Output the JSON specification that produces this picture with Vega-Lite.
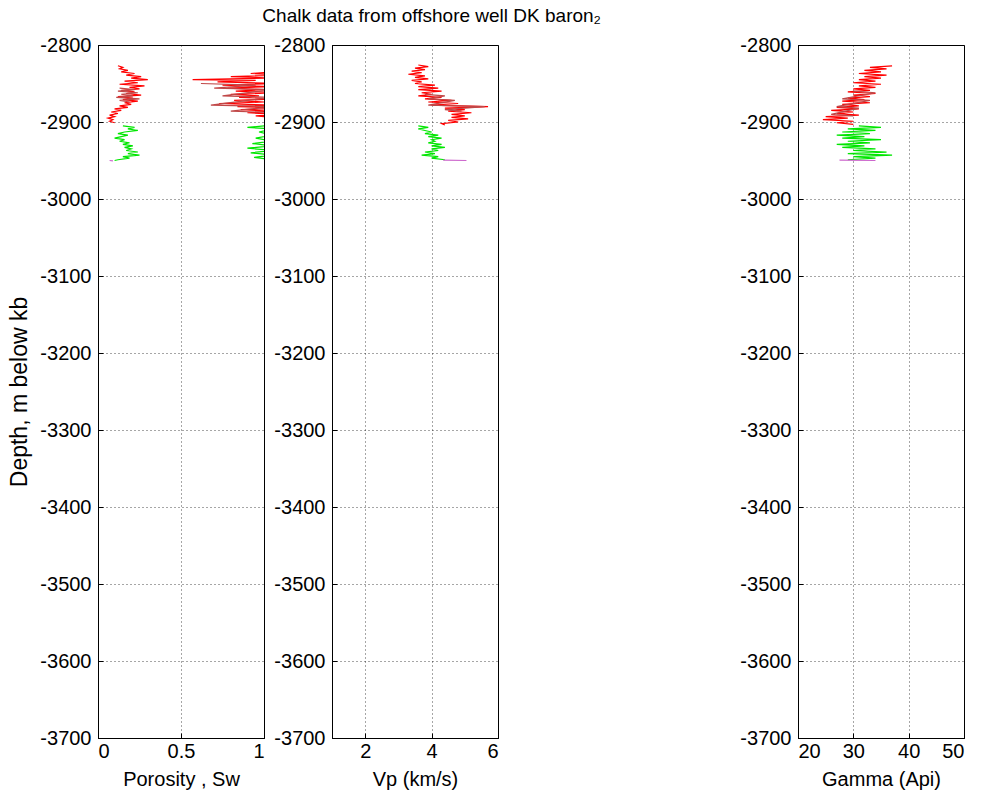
{
  "$schema": "https://vega.github.io/schema/vega-lite/v6.json",
  "background": "white",
  "padding": {"left": 8, "top": 6, "right": 5, "bottom": 5},
  "title": {"text": "Chalk data from offshore well DK baron₂", "font": "Liberation Sans", "fontSize": 19, "fontWeight": "normal", "color": "#000", "anchor": "start", "frame": "bounds", "dx": 254, "offset": 9},
  "config": {
    "view": {"stroke": "#000", "strokeWidth": 1},
    "axis": {"labelFont": "Liberation Sans", "labelFontSize": 20, "labelColor": "#000", "titleFont": "Liberation Sans", "titleFontSize": 20, "titleFontWeight": "normal", "titleColor": "#000", "domainColor": "#000", "tickColor": "#000", "tickSize": -5, "grid": true, "gridColor": "#000", "gridDash": [1, 3], "gridOpacity": 0.7},
    "axisX": {"labelPadding": 8, "titlePadding": 8},
    "axisY": {"labelPadding": 12, "titlePadding": 8, "titleFontSize": 23}
  },
  "datasets": {
    "logs": [
      {"log": "phi", "zone": "r", "depth": -2827, "value": 0.12},
      {"log": "phi", "zone": "r", "depth": -2829, "value": 0.15},
      {"log": "phi", "zone": "r", "depth": -2831, "value": 0.13},
      {"log": "phi", "zone": "r", "depth": -2833, "value": 0.18},
      {"log": "phi", "zone": "r", "depth": -2835, "value": 0.14},
      {"log": "phi", "zone": "r", "depth": -2837, "value": 0.22},
      {"log": "phi", "zone": "r", "depth": -2839, "value": 0.17},
      {"log": "phi", "zone": "r", "depth": -2841, "value": 0.26},
      {"log": "phi", "zone": "r", "depth": -2843, "value": 0.2},
      {"log": "phi", "zone": "r", "depth": -2845, "value": 0.3},
      {"log": "phi", "zone": "r", "depth": -2847, "value": 0.16},
      {"log": "phi", "zone": "r", "depth": -2849, "value": 0.24},
      {"log": "phi", "zone": "r", "depth": -2851, "value": 0.13},
      {"log": "phi", "zone": "r", "depth": -2853, "value": 0.28},
      {"log": "phi", "zone": "r", "depth": -2855, "value": 0.19},
      {"log": "phi", "zone": "r", "depth": -2857, "value": 0.25},
      {"log": "phi", "zone": "r", "depth": -2859, "value": 0.14},
      {"log": "phi", "zone": "r", "depth": -2861, "value": 0.22},
      {"log": "phi", "zone": "r", "depth": -2863, "value": 0.17},
      {"log": "phi", "zone": "r", "depth": -2865, "value": 0.26},
      {"log": "phi", "zone": "r", "depth": -2867, "value": 0.12},
      {"log": "phi", "zone": "r", "depth": -2869, "value": 0.21},
      {"log": "phi", "zone": "r", "depth": -2871, "value": 0.15},
      {"log": "phi", "zone": "r", "depth": -2873, "value": 0.24},
      {"log": "phi", "zone": "r", "depth": -2875, "value": 0.16},
      {"log": "phi", "zone": "r", "depth": -2877, "value": 0.2},
      {"log": "phi", "zone": "r", "depth": -2879, "value": 0.13},
      {"log": "phi", "zone": "r", "depth": -2881, "value": 0.18},
      {"log": "phi", "zone": "r", "depth": -2883, "value": 0.1},
      {"log": "phi", "zone": "r", "depth": -2885, "value": 0.14},
      {"log": "phi", "zone": "r", "depth": -2887, "value": 0.08},
      {"log": "phi", "zone": "r", "depth": -2889, "value": 0.12},
      {"log": "phi", "zone": "r", "depth": -2891, "value": 0.07},
      {"log": "phi", "zone": "r", "depth": -2893, "value": 0.1},
      {"log": "phi", "zone": "r", "depth": -2895, "value": 0.06},
      {"log": "phi", "zone": "r", "depth": -2897, "value": 0.09},
      {"log": "phi", "zone": "r", "depth": -2899, "value": 0.07},
      {"log": "phi", "zone": "r", "depth": -2901, "value": 0.1},
      {"log": "phi", "zone": "d", "depth": -2856, "value": 0.13},
      {"log": "phi", "zone": "d", "depth": -2858, "value": 0.22},
      {"log": "phi", "zone": "d", "depth": -2860, "value": 0.12},
      {"log": "phi", "zone": "d", "depth": -2862, "value": 0.24},
      {"log": "phi", "zone": "d", "depth": -2864, "value": 0.14},
      {"log": "phi", "zone": "d", "depth": -2866, "value": 0.21},
      {"log": "phi", "zone": "d", "depth": -2868, "value": 0.11},
      {"log": "phi", "zone": "d", "depth": -2870, "value": 0.25},
      {"log": "phi", "zone": "d", "depth": -2872, "value": 0.13},
      {"log": "phi", "zone": "d", "depth": -2874, "value": 0.19},
      {"log": "phi", "zone": "g", "depth": -2905, "value": 0.15},
      {"log": "phi", "zone": "g", "depth": -2907, "value": 0.22},
      {"log": "phi", "zone": "g", "depth": -2909, "value": 0.18},
      {"log": "phi", "zone": "g", "depth": -2911, "value": 0.24},
      {"log": "phi", "zone": "g", "depth": -2913, "value": 0.16},
      {"log": "phi", "zone": "g", "depth": -2915, "value": 0.12},
      {"log": "phi", "zone": "g", "depth": -2917, "value": 0.18},
      {"log": "phi", "zone": "g", "depth": -2919, "value": 0.14},
      {"log": "phi", "zone": "g", "depth": -2921, "value": 0.1},
      {"log": "phi", "zone": "g", "depth": -2923, "value": 0.16},
      {"log": "phi", "zone": "g", "depth": -2925, "value": 0.13},
      {"log": "phi", "zone": "g", "depth": -2927, "value": 0.19},
      {"log": "phi", "zone": "g", "depth": -2929, "value": 0.15},
      {"log": "phi", "zone": "g", "depth": -2931, "value": 0.21},
      {"log": "phi", "zone": "g", "depth": -2933, "value": 0.16},
      {"log": "phi", "zone": "g", "depth": -2935, "value": 0.2},
      {"log": "phi", "zone": "g", "depth": -2937, "value": 0.17},
      {"log": "phi", "zone": "g", "depth": -2939, "value": 0.24},
      {"log": "phi", "zone": "g", "depth": -2941, "value": 0.18},
      {"log": "phi", "zone": "g", "depth": -2943, "value": 0.25},
      {"log": "phi", "zone": "g", "depth": -2945, "value": 0.15},
      {"log": "phi", "zone": "g", "depth": -2947, "value": 0.19},
      {"log": "phi", "zone": "g", "depth": -2949, "value": 0.12},
      {"log": "phi", "zone": "g", "depth": -2950, "value": 0.1},
      {"log": "phi", "zone": "m", "depth": -2950, "value": 0.07},
      {"log": "phi", "zone": "m", "depth": -2950.5, "value": 0.09},
      {"log": "sw", "zone": "r", "depth": -2835, "value": 1.05},
      {"log": "sw", "zone": "r", "depth": -2837, "value": 0.92},
      {"log": "sw", "zone": "r", "depth": -2839, "value": 1.1},
      {"log": "sw", "zone": "r", "depth": -2841, "value": 0.8},
      {"log": "sw", "zone": "r", "depth": -2843, "value": 1.05},
      {"log": "sw", "zone": "r", "depth": -2845, "value": 0.57},
      {"log": "sw", "zone": "r", "depth": -2846, "value": 0.95},
      {"log": "sw", "zone": "r", "depth": -2848, "value": 0.72},
      {"log": "sw", "zone": "r", "depth": -2850, "value": 1.1},
      {"log": "sw", "zone": "r", "depth": -2852, "value": 0.75},
      {"log": "sw", "zone": "r", "depth": -2854, "value": 1.05},
      {"log": "sw", "zone": "r", "depth": -2856, "value": 0.78},
      {"log": "sw", "zone": "r", "depth": -2858, "value": 1.0},
      {"log": "sw", "zone": "r", "depth": -2860, "value": 0.83},
      {"log": "sw", "zone": "r", "depth": -2862, "value": 1.1},
      {"log": "sw", "zone": "r", "depth": -2864, "value": 0.8},
      {"log": "sw", "zone": "r", "depth": -2866, "value": 0.97},
      {"log": "sw", "zone": "r", "depth": -2868, "value": 0.85},
      {"log": "sw", "zone": "r", "depth": -2870, "value": 1.1},
      {"log": "sw", "zone": "r", "depth": -2872, "value": 0.82},
      {"log": "sw", "zone": "r", "depth": -2874, "value": 1.0},
      {"log": "sw", "zone": "r", "depth": -2876, "value": 0.73},
      {"log": "sw", "zone": "r", "depth": -2878, "value": 1.05},
      {"log": "sw", "zone": "r", "depth": -2880, "value": 0.84},
      {"log": "sw", "zone": "r", "depth": -2882, "value": 1.1},
      {"log": "sw", "zone": "r", "depth": -2884, "value": 0.86},
      {"log": "sw", "zone": "r", "depth": -2886, "value": 1.05},
      {"log": "sw", "zone": "r", "depth": -2888, "value": 0.9},
      {"log": "sw", "zone": "r", "depth": -2890, "value": 1.1},
      {"log": "sw", "zone": "r", "depth": -2892, "value": 0.95},
      {"log": "sw", "zone": "r", "depth": -2894, "value": 1.05},
      {"log": "sw", "zone": "d", "depth": -2850, "value": 0.62},
      {"log": "sw", "zone": "d", "depth": -2852, "value": 0.95},
      {"log": "sw", "zone": "d", "depth": -2856, "value": 0.7},
      {"log": "sw", "zone": "d", "depth": -2858, "value": 1.05},
      {"log": "sw", "zone": "d", "depth": -2866, "value": 0.75},
      {"log": "sw", "zone": "d", "depth": -2868, "value": 1.05},
      {"log": "sw", "zone": "d", "depth": -2878, "value": 0.68},
      {"log": "sw", "zone": "d", "depth": -2880, "value": 1.05},
      {"log": "sw", "zone": "d", "depth": -2886, "value": 0.8},
      {"log": "sw", "zone": "d", "depth": -2888, "value": 1.1},
      {"log": "sw", "zone": "g", "depth": -2905, "value": 1.0},
      {"log": "sw", "zone": "g", "depth": -2907, "value": 0.9},
      {"log": "sw", "zone": "g", "depth": -2909, "value": 1.05},
      {"log": "sw", "zone": "g", "depth": -2913, "value": 0.97},
      {"log": "sw", "zone": "g", "depth": -2917, "value": 1.05},
      {"log": "sw", "zone": "g", "depth": -2921, "value": 0.95},
      {"log": "sw", "zone": "g", "depth": -2925, "value": 1.05},
      {"log": "sw", "zone": "g", "depth": -2928, "value": 0.93},
      {"log": "sw", "zone": "g", "depth": -2931, "value": 1.05},
      {"log": "sw", "zone": "g", "depth": -2934, "value": 0.9},
      {"log": "sw", "zone": "g", "depth": -2937, "value": 1.05},
      {"log": "sw", "zone": "g", "depth": -2940, "value": 0.92},
      {"log": "sw", "zone": "g", "depth": -2943, "value": 1.05},
      {"log": "sw", "zone": "g", "depth": -2946, "value": 0.94},
      {"log": "sw", "zone": "g", "depth": -2949, "value": 1.05},
      {"log": "vp", "zone": "r", "depth": -2826, "value": 3.6},
      {"log": "vp", "zone": "r", "depth": -2828, "value": 3.9},
      {"log": "vp", "zone": "r", "depth": -2830, "value": 3.5},
      {"log": "vp", "zone": "r", "depth": -2832, "value": 3.8},
      {"log": "vp", "zone": "r", "depth": -2834, "value": 3.4},
      {"log": "vp", "zone": "r", "depth": -2836, "value": 3.7},
      {"log": "vp", "zone": "r", "depth": -2838, "value": 3.3},
      {"log": "vp", "zone": "r", "depth": -2840, "value": 3.8},
      {"log": "vp", "zone": "r", "depth": -2842, "value": 3.5},
      {"log": "vp", "zone": "r", "depth": -2844, "value": 3.9},
      {"log": "vp", "zone": "r", "depth": -2846, "value": 3.4},
      {"log": "vp", "zone": "r", "depth": -2848, "value": 3.7},
      {"log": "vp", "zone": "r", "depth": -2850, "value": 3.5},
      {"log": "vp", "zone": "r", "depth": -2852, "value": 4.1},
      {"log": "vp", "zone": "r", "depth": -2854, "value": 3.6},
      {"log": "vp", "zone": "r", "depth": -2856, "value": 4.2},
      {"log": "vp", "zone": "r", "depth": -2858, "value": 3.6},
      {"log": "vp", "zone": "r", "depth": -2860, "value": 4.3},
      {"log": "vp", "zone": "r", "depth": -2862, "value": 3.7},
      {"log": "vp", "zone": "r", "depth": -2864, "value": 4.0},
      {"log": "vp", "zone": "r", "depth": -2866, "value": 3.6},
      {"log": "vp", "zone": "r", "depth": -2868, "value": 4.3},
      {"log": "vp", "zone": "r", "depth": -2870, "value": 3.8},
      {"log": "vp", "zone": "r", "depth": -2872, "value": 4.6},
      {"log": "vp", "zone": "r", "depth": -2874, "value": 3.9},
      {"log": "vp", "zone": "r", "depth": -2876, "value": 4.8},
      {"log": "vp", "zone": "r", "depth": -2878, "value": 4.0},
      {"log": "vp", "zone": "r", "depth": -2880, "value": 5.7},
      {"log": "vp", "zone": "r", "depth": -2882, "value": 4.4},
      {"log": "vp", "zone": "r", "depth": -2884, "value": 5.0},
      {"log": "vp", "zone": "r", "depth": -2886, "value": 4.5},
      {"log": "vp", "zone": "r", "depth": -2888, "value": 5.2},
      {"log": "vp", "zone": "r", "depth": -2890, "value": 4.6},
      {"log": "vp", "zone": "r", "depth": -2892, "value": 5.0},
      {"log": "vp", "zone": "r", "depth": -2894, "value": 4.6},
      {"log": "vp", "zone": "r", "depth": -2896, "value": 5.1},
      {"log": "vp", "zone": "r", "depth": -2898, "value": 4.5},
      {"log": "vp", "zone": "r", "depth": -2900, "value": 4.8},
      {"log": "vp", "zone": "r", "depth": -2902, "value": 4.3},
      {"log": "vp", "zone": "r", "depth": -2904, "value": 4.4},
      {"log": "vp", "zone": "d", "depth": -2864, "value": 3.8},
      {"log": "vp", "zone": "d", "depth": -2866, "value": 4.4},
      {"log": "vp", "zone": "d", "depth": -2870, "value": 3.9},
      {"log": "vp", "zone": "d", "depth": -2872, "value": 4.7},
      {"log": "vp", "zone": "d", "depth": -2878, "value": 3.9},
      {"log": "vp", "zone": "d", "depth": -2880, "value": 5.6},
      {"log": "vp", "zone": "d", "depth": -2884, "value": 4.4},
      {"log": "vp", "zone": "d", "depth": -2886, "value": 4.9},
      {"log": "vp", "zone": "g", "depth": -2905, "value": 3.6},
      {"log": "vp", "zone": "g", "depth": -2907, "value": 3.9},
      {"log": "vp", "zone": "g", "depth": -2909, "value": 3.6},
      {"log": "vp", "zone": "g", "depth": -2911, "value": 3.8},
      {"log": "vp", "zone": "g", "depth": -2913, "value": 4.0},
      {"log": "vp", "zone": "g", "depth": -2915, "value": 3.8},
      {"log": "vp", "zone": "g", "depth": -2917, "value": 4.2},
      {"log": "vp", "zone": "g", "depth": -2919, "value": 3.9},
      {"log": "vp", "zone": "g", "depth": -2921, "value": 4.3},
      {"log": "vp", "zone": "g", "depth": -2923, "value": 4.0},
      {"log": "vp", "zone": "g", "depth": -2925, "value": 4.1},
      {"log": "vp", "zone": "g", "depth": -2927, "value": 3.9},
      {"log": "vp", "zone": "g", "depth": -2929, "value": 4.3},
      {"log": "vp", "zone": "g", "depth": -2931, "value": 4.0},
      {"log": "vp", "zone": "g", "depth": -2933, "value": 4.4},
      {"log": "vp", "zone": "g", "depth": -2935, "value": 4.0},
      {"log": "vp", "zone": "g", "depth": -2937, "value": 4.2},
      {"log": "vp", "zone": "g", "depth": -2939, "value": 3.8},
      {"log": "vp", "zone": "g", "depth": -2941, "value": 4.1},
      {"log": "vp", "zone": "g", "depth": -2943, "value": 3.7},
      {"log": "vp", "zone": "g", "depth": -2945, "value": 4.2},
      {"log": "vp", "zone": "g", "depth": -2947, "value": 4.0},
      {"log": "vp", "zone": "g", "depth": -2949, "value": 4.4},
      {"log": "vp", "zone": "m", "depth": -2949.5, "value": 4.35},
      {"log": "vp", "zone": "m", "depth": -2950, "value": 5.05},
      {"log": "gr", "zone": "r", "depth": -2827, "value": 37},
      {"log": "gr", "zone": "r", "depth": -2829, "value": 33},
      {"log": "gr", "zone": "r", "depth": -2831, "value": 36},
      {"log": "gr", "zone": "r", "depth": -2833, "value": 32},
      {"log": "gr", "zone": "r", "depth": -2835, "value": 35},
      {"log": "gr", "zone": "r", "depth": -2837, "value": 31},
      {"log": "gr", "zone": "r", "depth": -2839, "value": 36},
      {"log": "gr", "zone": "r", "depth": -2841, "value": 32},
      {"log": "gr", "zone": "r", "depth": -2843, "value": 35},
      {"log": "gr", "zone": "r", "depth": -2845, "value": 31},
      {"log": "gr", "zone": "r", "depth": -2847, "value": 34},
      {"log": "gr", "zone": "r", "depth": -2849, "value": 30},
      {"log": "gr", "zone": "r", "depth": -2851, "value": 35},
      {"log": "gr", "zone": "r", "depth": -2853, "value": 31},
      {"log": "gr", "zone": "r", "depth": -2855, "value": 34},
      {"log": "gr", "zone": "r", "depth": -2857, "value": 30},
      {"log": "gr", "zone": "r", "depth": -2859, "value": 33},
      {"log": "gr", "zone": "r", "depth": -2861, "value": 29},
      {"log": "gr", "zone": "r", "depth": -2863, "value": 34},
      {"log": "gr", "zone": "r", "depth": -2865, "value": 30},
      {"log": "gr", "zone": "r", "depth": -2867, "value": 33},
      {"log": "gr", "zone": "r", "depth": -2869, "value": 29},
      {"log": "gr", "zone": "r", "depth": -2871, "value": 32},
      {"log": "gr", "zone": "r", "depth": -2873, "value": 28},
      {"log": "gr", "zone": "r", "depth": -2875, "value": 33},
      {"log": "gr", "zone": "r", "depth": -2877, "value": 28},
      {"log": "gr", "zone": "r", "depth": -2879, "value": 31},
      {"log": "gr", "zone": "r", "depth": -2881, "value": 27},
      {"log": "gr", "zone": "r", "depth": -2883, "value": 31},
      {"log": "gr", "zone": "r", "depth": -2885, "value": 26},
      {"log": "gr", "zone": "r", "depth": -2887, "value": 30},
      {"log": "gr", "zone": "r", "depth": -2889, "value": 27},
      {"log": "gr", "zone": "r", "depth": -2891, "value": 31},
      {"log": "gr", "zone": "r", "depth": -2893, "value": 25},
      {"log": "gr", "zone": "r", "depth": -2895, "value": 29},
      {"log": "gr", "zone": "r", "depth": -2897, "value": 24.5},
      {"log": "gr", "zone": "r", "depth": -2899, "value": 30},
      {"log": "gr", "zone": "r", "depth": -2901, "value": 27},
      {"log": "gr", "zone": "r", "depth": -2903, "value": 30},
      {"log": "gr", "zone": "d", "depth": -2860, "value": 30},
      {"log": "gr", "zone": "d", "depth": -2862, "value": 34},
      {"log": "gr", "zone": "d", "depth": -2870, "value": 28},
      {"log": "gr", "zone": "d", "depth": -2872, "value": 33},
      {"log": "gr", "zone": "d", "depth": -2880, "value": 27},
      {"log": "gr", "zone": "d", "depth": -2882, "value": 31},
      {"log": "gr", "zone": "d", "depth": -2890, "value": 26},
      {"log": "gr", "zone": "d", "depth": -2892, "value": 30},
      {"log": "gr", "zone": "g", "depth": -2905, "value": 31},
      {"log": "gr", "zone": "g", "depth": -2907, "value": 35},
      {"log": "gr", "zone": "g", "depth": -2909, "value": 29},
      {"log": "gr", "zone": "g", "depth": -2911, "value": 34},
      {"log": "gr", "zone": "g", "depth": -2913, "value": 28},
      {"log": "gr", "zone": "g", "depth": -2915, "value": 33},
      {"log": "gr", "zone": "g", "depth": -2917, "value": 27},
      {"log": "gr", "zone": "g", "depth": -2919, "value": 32},
      {"log": "gr", "zone": "g", "depth": -2921, "value": 28},
      {"log": "gr", "zone": "g", "depth": -2923, "value": 35},
      {"log": "gr", "zone": "g", "depth": -2925, "value": 29},
      {"log": "gr", "zone": "g", "depth": -2927, "value": 33},
      {"log": "gr", "zone": "g", "depth": -2929, "value": 27},
      {"log": "gr", "zone": "g", "depth": -2931, "value": 32},
      {"log": "gr", "zone": "g", "depth": -2933, "value": 28},
      {"log": "gr", "zone": "g", "depth": -2935, "value": 34},
      {"log": "gr", "zone": "g", "depth": -2937, "value": 30},
      {"log": "gr", "zone": "g", "depth": -2939, "value": 36},
      {"log": "gr", "zone": "g", "depth": -2941, "value": 29},
      {"log": "gr", "zone": "g", "depth": -2943, "value": 37},
      {"log": "gr", "zone": "g", "depth": -2945, "value": 30},
      {"log": "gr", "zone": "g", "depth": -2947, "value": 34},
      {"log": "gr", "zone": "g", "depth": -2949, "value": 29},
      {"log": "gr", "zone": "m", "depth": -2949.5, "value": 27.5},
      {"log": "gr", "zone": "m", "depth": -2950, "value": 34}
    ]
  },
  "spacing": 240,
  "hconcat": [
    {
      "spacing": 8,
      "hconcat": [
        {
          "width": 166, "height": 693,
          "data": {"name": "logs"},
          "transform": [{"filter": "datum.log == 'phi' || datum.log == 'sw'"}],
          "mark": {"type": "line", "clip": true, "strokeWidth": 1.2},
          "encoding": {
            "x": {"field": "value", "type": "quantitative", "scale": {"domain": [0, 1], "nice": false, "zero": false}, "axis": {"values": [0, 0.5, 1], "title": "Porosity , Sw", "labelExpr": "datum.value + ''"}},
            "y": {"field": "depth", "type": "quantitative", "scale": {"domain": [-3700, -2800], "nice": false, "zero": false}, "axis": {"values": [-3700, -3600, -3500, -3400, -3300, -3200, -3100, -3000, -2900, -2800], "title": "Depth, m below kb", "labelExpr": "datum.value + ''"}},
            "color": {"field": "zone", "type": "nominal", "scale": {"domain": ["r", "d", "g", "m"], "range": ["#ff0000", "#c04848", "#00e600", "#cc66cc"]}, "legend": null},
            "detail": {"field": "log"},
            "order": {"field": "depth", "type": "quantitative"}
          }
        },
        {
          "width": 166, "height": 693,
          "data": {"name": "logs"},
          "transform": [{"filter": "datum.log == 'vp'"}],
          "mark": {"type": "line", "clip": true, "strokeWidth": 1.2},
          "encoding": {
            "x": {"field": "value", "type": "quantitative", "scale": {"domain": [1, 6], "nice": false, "zero": false}, "axis": {"values": [2, 4, 6], "title": "Vp (km/s)", "labelExpr": "datum.value + ''"}},
            "y": {"field": "depth", "type": "quantitative", "scale": {"domain": [-3700, -2800], "nice": false, "zero": false}, "axis": {"values": [-3700, -3600, -3500, -3400, -3300, -3200, -3100, -3000, -2900, -2800], "title": null, "labelExpr": "datum.value + ''"}},
            "color": {"field": "zone", "type": "nominal", "scale": {"domain": ["r", "d", "g", "m"], "range": ["#ff0000", "#c04848", "#00e600", "#cc66cc"]}, "legend": null},
            "order": {"field": "depth", "type": "quantitative"}
          }
        }
      ]
    },
    {
      "width": 166, "height": 693,
      "data": {"name": "logs"},
      "transform": [{"filter": "datum.log == 'gr'"}],
      "mark": {"type": "line", "clip": true, "strokeWidth": 1.2},
      "encoding": {
        "x": {"field": "value", "type": "quantitative", "scale": {"domain": [20, 50], "nice": false, "zero": false}, "axis": {"values": [20, 30, 40, 50], "title": "Gamma (Api)", "labelExpr": "datum.value + ''"}},
        "y": {"field": "depth", "type": "quantitative", "scale": {"domain": [-3700, -2800], "nice": false, "zero": false}, "axis": {"values": [-3700, -3600, -3500, -3400, -3300, -3200, -3100, -3000, -2900, -2800], "title": null, "labelExpr": "datum.value + ''"}},
        "color": {"field": "zone", "type": "nominal", "scale": {"domain": ["r", "d", "g", "m"], "range": ["#ff0000", "#c04848", "#00e600", "#cc66cc"]}, "legend": null},
        "order": {"field": "depth", "type": "quantitative"}
      }
    }
  ]
}
